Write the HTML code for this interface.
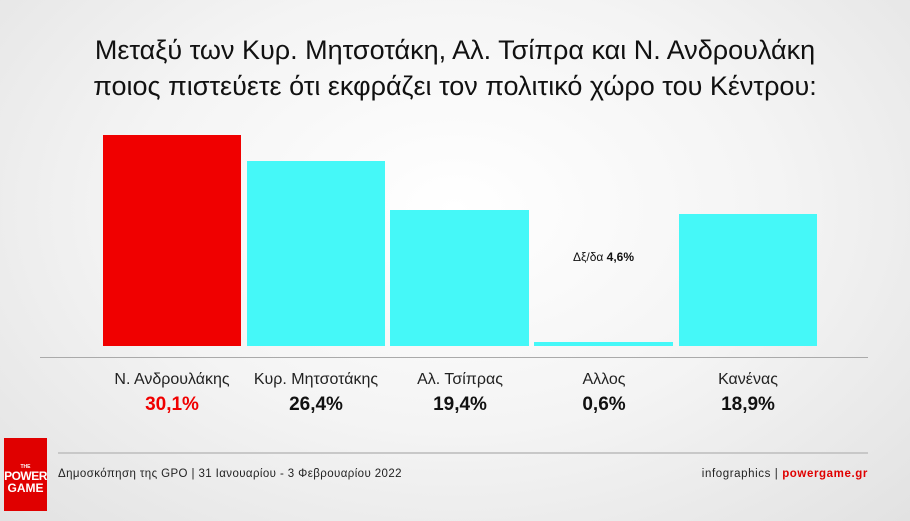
<!DOCTYPE html><html><head><meta charset="utf-8"><style>
body{margin:0}
#c{position:relative;width:910px;height:521px;overflow:hidden;background:radial-gradient(ellipse at 50% 40%,#ffffff 0%,#f4f4f4 50%,#e2e2e2 100%);font-family:"Liberation Sans",sans-serif}
.t{position:absolute;left:0;width:910px;text-align:center;font-size:27px;color:#111}
.b{position:absolute;bottom:175px}
.l{position:absolute;top:371px;width:150px;text-align:center;font-size:16px;color:#222}
.v{position:absolute;top:394px;width:150px;text-align:center;font-size:19px;font-weight:bold;color:#111}
</style></head><body><div id="c">
<div class="t" style="top:35px">Μεταξύ των Κυρ. Μητσοτάκη, Αλ. Τσίπρα και Ν. Ανδρουλάκη</div>
<div class="t" style="top:71px">ποιος πιστεύετε ότι εκφράζει τον πολιτικό χώρο του Κέντρου:</div>
<div class="b" style="left:103px;width:138px;top:135px;height:211px;background:#f00000"></div>
<div class="b" style="left:247px;width:138px;top:161px;height:185px;background:#45f8f8"></div>
<div class="b" style="left:390px;width:139px;top:210px;height:136px;background:#45f8f8"></div>
<div class="b" style="left:534px;width:139px;top:342px;height:4px;background:#45f8f8"></div>
<div class="b" style="left:679px;width:138px;top:214px;height:132px;background:#45f8f8"></div>
<div style="position:absolute;left:534px;width:139px;top:250px;text-align:center;font-size:12px;color:#111">Δξ/δα <b>4,6%</b></div>
<div style="position:absolute;left:40px;width:828px;top:357px;height:1px;background:#aaa"></div>
<div class="l" style="left:97px">Ν. Ανδρουλάκης</div><div class="v" style="left:97px;color:#f00000">30,1%</div>
<div class="l" style="left:241px">Κυρ. Μητσοτάκης</div><div class="v" style="left:241px">26,4%</div>
<div class="l" style="left:385px">Αλ. Τσίπρας</div><div class="v" style="left:385px">19,4%</div>
<div class="l" style="left:529px">Αλλος</div><div class="v" style="left:529px">0,6%</div>
<div class="l" style="left:673px">Κανένας</div><div class="v" style="left:673px">18,9%</div>
<div style="position:absolute;left:58px;width:810px;top:452px;height:2px;background:#c8c8c8"></div>
<div style="position:absolute;left:4px;top:438px;width:43px;height:73px;background:#e00000;color:#fff;text-align:center;font-weight:bold;line-height:1">
<div style="font-size:5px;margin-top:27px">THE</div><div style="font-size:12px;letter-spacing:-0.5px">POWER</div><div style="font-size:12px">GAME</div></div>
<div style="position:absolute;left:58px;top:468px;font-size:11.5px;color:#222;letter-spacing:0.4px">Δημοσκόπηση της GPO | 31 Ιανουαρίου - 3 Φεβρουαρίου 2022</div>
<div style="position:absolute;right:42px;top:468px;font-size:11.5px;color:#222;letter-spacing:0.6px">infographics | <b style="color:#e00000">powergame.gr</b></div>
</div></body></html>
